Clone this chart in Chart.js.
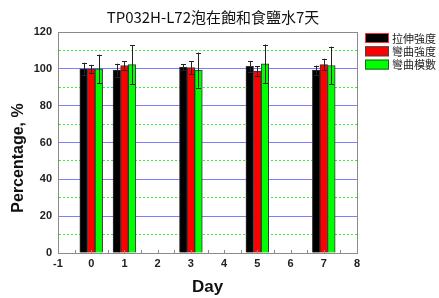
<!DOCTYPE html>
<html>
<head>
<meta charset="utf-8">
<script src="https://cdn.jsdelivr.net/npm/chart.js@4"></script>
<style>
  html, body { margin: 0; padding: 0; background: #fff; }
</style>
</head>
<body>
<canvas id="chart" width="439" height="298"></canvas>
<script>
// data
const days = [0, 1, 3, 5, 7];
const seriesNames = ['拉伸強度', '彎曲強度', '彎曲模數'];
const tensile = [100, 99.3, 100.9, 101.3, 99.3];
const tensileErr = [3.3, 3.5, 1.5, 2.8, 2.5];
const flexStrength = [100, 101.8, 100.7, 98.8, 102.3];
const flexStrengthErr = [2.2, 2.2, 3.5, 2.5, 3.2];
const flexModulus = [100, 102.3, 99.3, 102.7, 101.8];
const flexModulusErr = [7.7, 10.5, 9.5, 10.5, 10.3];
const yTicks = [0, 20, 40, 60, 80, 100, 120];

const colors = ['#000000', '#ff0000', '#00ff00'];
const legendBorders = ['#ff3030', '#444444', '#2a5a2a'];

const makeSet = (label, values, errs, i) => ({
    label,
    data: days.map((d, j) => ({ x: d, y: values[j] })),
    errors: errs,
    backgroundColor: colors[i],
    borderColor: '#333',
    borderWidth: 1,
    barThickness: 7.6
});

// draws title, y title, frame, minor ticks, legend and error bars
const extras = {
    id: 'extras',
    afterDatasetsDraw(chart) {
        const { ctx, chartArea: a, scales: { x, y } } = chart;
        ctx.save();

        // error bars
        ctx.strokeStyle = '#222';
        ctx.lineWidth = 1;
        chart.data.datasets.forEach((ds, i) => {
            chart.getDatasetMeta(i).data.forEach((bar, j) => {
                const v = ds.data[j].y, e = ds.errors[j];
                const top = y.getPixelForValue(v + e);
                const bot = y.getPixelForValue(v - e);
                const cx = Math.round(bar.x) + 0.5;
                ctx.beginPath();
                ctx.moveTo(cx, top); ctx.lineTo(cx, bot);
                ctx.moveTo(cx - 2.5, Math.round(top) + 0.5); ctx.lineTo(cx + 2.5, Math.round(top) + 0.5);
                ctx.moveTo(cx - 2.5, Math.round(bot) + 0.5); ctx.lineTo(cx + 2.5, Math.round(bot) + 0.5);
                ctx.stroke();
            });
        });

        // frame
        ctx.strokeStyle = '#8a8a8a';
        ctx.strokeRect(Math.round(a.left) + 0.5, Math.round(a.top) + 0.5, Math.round(a.right - a.left), Math.round(a.bottom - a.top));

        // small inward ticks on x axis
        ctx.beginPath();
        for (let t = -0.5; t < 8; t += 0.5) {
            const px = Math.round(x.getPixelForValue(t)) + 0.5;
            ctx.moveTo(px, a.bottom);
            ctx.lineTo(px, a.bottom - 3);
        }
        ctx.stroke();

        // title
        ctx.fillStyle = '#111';
        ctx.textAlign = 'center';
        ctx.textBaseline = 'middle';
        ctx.font = '15px "Noto Sans CJK TC"';
        ctx.fillText('TP032H-L72泡在飽和食鹽水7天', 213, 17);

        // y axis title
        ctx.save();
        ctx.translate(19, 158);
        ctx.rotate(-Math.PI / 2);
        ctx.font = 'bold 16px "Liberation Sans"';
        ctx.fillText('Percentage, %', 0, 0);
        ctx.restore();

        // legend
        ctx.textAlign = 'left';
        ctx.font = '11px "Noto Sans CJK TC"';
        seriesNames.forEach((name, i) => {
            const top = 33 + i * 13.3;
            ctx.fillStyle = colors[i];
            ctx.fillRect(365, top, 24, 10);
            ctx.strokeStyle = legendBorders[i];
            ctx.strokeRect(365.5, top + 0.5, 23, 9);
            ctx.fillStyle = '#222';
            ctx.fillText(name, 392, top + 5.5);
        });

        ctx.restore();
    }
};

new Chart(document.getElementById('chart'), {
    type: 'bar',
    data: {
        datasets: [
            makeSet(seriesNames[0], tensile, tensileErr, 0),
            makeSet(seriesNames[1], flexStrength, flexStrengthErr, 1),
            makeSet(seriesNames[2], flexModulus, flexModulusErr, 2)
        ]
    },
    options: {
        responsive: false,
        animation: false,
        devicePixelRatio: 1,
        layout: { padding: { top: 32, right: 82, left: 0, bottom: 0 } },
        plugins: { legend: { display: false }, title: { display: false }, tooltip: { enabled: false } },
        scales: {
            x: {
                type: 'linear',
                min: -1,
                max: 8,
                offset: false,
                ticks: { stepSize: 1, color: '#222', font: { family: 'Liberation Sans', size: 11, weight: 'bold' }, padding: 4 },
                grid: { display: false, drawTicks: false },
                border: { color: '#8a8a8a' },
                title: { display: true, text: 'Day', color: '#111', font: { family: 'Liberation Sans', size: 17, weight: 'bold' }, padding: { top: 0, bottom: 0 } },
                afterFit: s => { s.height = 45; }
            },
            y: {
                min: 0,
                max: 120,
                ticks: {
                    stepSize: 10,
                    color: '#222',
                    font: { family: 'Liberation Sans', size: 11, weight: 'bold' },
                    padding: 6,
                    callback: v => yTicks.includes(v) ? v : ''
                },
                grid: {
                    drawTicks: false,
                    color: c => (c.tick.value === 0 || c.tick.value === 120) ? 'rgba(0,0,0,0)' : (c.tick.value % 20 === 0 ? '#7d7dff' : '#33ee33')
                },
                border: {
                    color: '#8a8a8a',
                    dash: c => (c.tick && c.tick.value % 20 !== 0) ? [2, 2] : []
                },
                afterFit: s => { s.width = 58; }
            }
        }
    },
    plugins: [extras]
});
</script>
</body>
</html>
